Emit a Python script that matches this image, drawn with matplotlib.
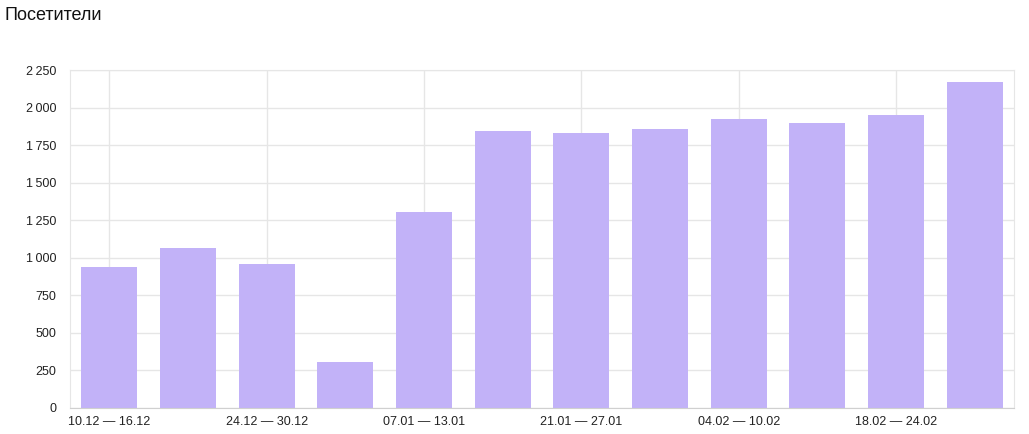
import matplotlib
matplotlib.use("Agg")
import matplotlib.pyplot as plt
from matplotlib.ticker import FuncFormatter, MultipleLocator

categories = ["10.12 — 16.12", "17.12 — 23.12", "24.12 — 30.12", "31.12 — 06.01",
              "07.01 — 13.01", "14.01 — 20.01", "21.01 — 27.01", "28.01 — 03.02",
              "04.02 — 10.02", "11.02 — 17.02", "18.02 — 24.02", "25.02 — 03.03"]
visitors = [941, 1062, 961, 307, 1308, 1843, 1829, 1856, 1923, 1896, 1950, 2168]
title = "Посетители"

plt.rcParams['font.family'] = ['Liberation Sans', 'DejaVu Sans']

fig = plt.figure(figsize=(10.29, 4.34), dpi=100)
ax = fig.add_axes([70/1029, 26/434, 944/1029, 338/434])

x = list(range(len(categories)))
ax.bar(x, visitors, width=0.71, color="#c2b2f8", zorder=2)

ax.set_xlim(-0.5, len(categories) - 0.5)
ax.set_ylim(0, 2250)
ax.yaxis.set_major_locator(MultipleLocator(250))

def fmt(v, pos):
    v = int(round(v))
    s = f"{v:,}".replace(",", "\u2009")
    return s
ax.yaxis.set_major_formatter(FuncFormatter(fmt))

ax.set_xticks(x[::2])
ax.set_xticklabels(categories[::2])

ax.grid(True, color="#e6e6e6", linewidth=1, zorder=0)
ax.set_axisbelow(True)
for side in ["left", "right", "top"]:
    ax.spines[side].set_color("#e6e6e6")
ax.spines["bottom"].set_color("#d0d0d0")
ax.tick_params(axis="both", length=0, labelsize=9, labelcolor="#222222")
ax.tick_params(axis="y", pad=10)
ax.tick_params(axis="x", pad=6)
for lbl in ax.get_yticklabels():
    lbl.set_horizontalalignment("right")

fig.text(5/1029, 1 - 16/434, title, fontsize=13, ha="left", va="center", color="#111111")

fig.savefig("out.png", dpi=100)
